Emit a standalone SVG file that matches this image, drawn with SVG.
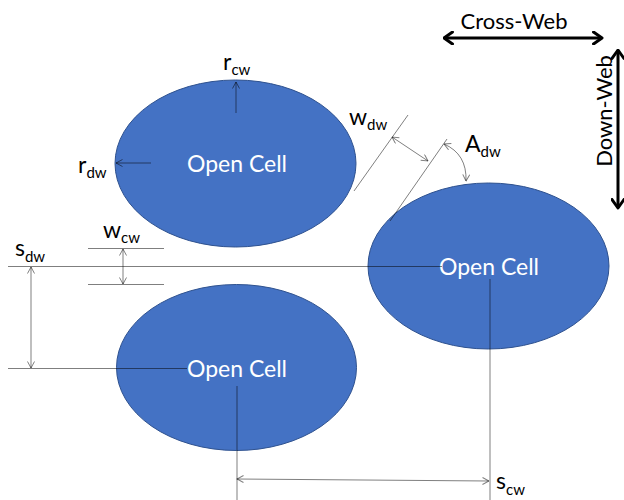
<svg xmlns="http://www.w3.org/2000/svg" width="624" height="500" viewBox="0 0 624 500">
<defs>
<style>
.cell{fill:#4472C4;stroke:#2F528F;stroke-width:1}
.ct{font-family:Lato,"Liberation Sans",sans-serif;font-size:23px;fill:#ffffff;text-anchor:middle}
.ln{fill:none;stroke:#000;stroke-opacity:0.5;stroke-width:1}
.dim{fill:none;stroke:#000;stroke-opacity:0.5;stroke-width:1;marker-start:url(#ah);marker-end:url(#ah)}
.lb{font-family:Lato,"Liberation Sans",sans-serif;font-size:23px;fill:#000}
.sb{font-size:15px}
.big{fill:none;stroke:#000;stroke-width:3;marker-start:url(#bh);marker-end:url(#bh)}
.bt{font-family:Lato,"Liberation Sans",sans-serif;font-size:22px;fill:#000}
</style>
<marker id="ah" viewBox="0 0 8 8" refX="7.5" refY="4" markerWidth="8" markerHeight="8" markerUnits="userSpaceOnUse" orient="auto-start-reverse">
<path d="M1,0.5 L7.5,4 L1,7.5" fill="none" stroke="#000" stroke-opacity="0.5" stroke-width="1"/>
</marker>
<marker id="bh" viewBox="0 0 12 14" refX="10.5" refY="7" markerWidth="12" markerHeight="14" markerUnits="userSpaceOnUse" orient="auto-start-reverse">
<path d="M2,1 L10.5,7 L2,13" fill="none" stroke="#000" stroke-width="3" stroke-linecap="round" stroke-linejoin="round"/>
</marker>
</defs>
<rect width="624" height="500" fill="#ffffff"/>

<g id="cell1">
<ellipse class="cell" cx="235.5" cy="163.5" rx="120.5" ry="83.5"/>
<text class="ct" x="237" y="172">Open Cell</text>
</g>
<g id="cell2">
<ellipse class="cell" cx="488.5" cy="266" rx="120.5" ry="83"/>
<text class="ct" x="489" y="275">Open Cell</text>
</g>
<g id="cell3">
<ellipse class="cell" cx="236.5" cy="367.5" rx="120" ry="83"/>
<text class="ct" x="237" y="377">Open Cell</text>
</g>

<g id="connectors">
<!-- reference lines -->
<line class="ln" x1="8" y1="266.5" x2="442" y2="266.5"/>
<line class="ln" x1="490" y1="279" x2="490" y2="500"/>
<line class="ln" x1="8" y1="368.5" x2="187" y2="368.5"/>
<line class="ln" x1="237" y1="386" x2="237" y2="500"/>
<line class="ln" x1="88" y1="248.5" x2="164" y2="248.5"/>
<line class="ln" x1="88" y1="284.5" x2="164" y2="284.5"/>
<line class="ln" x1="408" y1="115" x2="354" y2="191"/>
<line class="ln" x1="447" y1="139" x2="390" y2="221"/>
<!-- dimension arrows -->
<line class="dim" x1="31" y1="267" x2="31" y2="368"/>
<line class="dim" x1="123" y1="249" x2="123" y2="284"/>
<line class="dim" x1="237" y1="479" x2="489" y2="481"/>
<line class="dim" x1="392" y1="137" x2="428" y2="161"/>
<path class="dim" d="M444,144 Q467,154 466,181"/>
<!-- radius arrows -->
<line x1="236" y1="113" x2="236" y2="82" class="ln" marker-end="url(#ah)"/>
<line x1="151" y1="163" x2="116" y2="163" class="ln" marker-end="url(#ah)"/>
<!-- direction arrows -->
<line class="big" x1="444" y1="38" x2="602" y2="38"/>
<line class="big" x1="618" y1="50" x2="618" y2="208"/>
</g>

<g id="labels">
<text class="lb" x="223" y="70">r<tspan class="sb" dy="5">cw</tspan></text>
<text class="lb" x="78" y="173">r<tspan class="sb" dy="5">dw</tspan></text>
<text class="lb" x="349" y="125">w<tspan class="sb" dy="5">dw</tspan></text>
<text class="lb" x="465" y="152">A<tspan class="sb" dy="5">dw</tspan></text>
<text class="lb" x="103" y="238">w<tspan class="sb" dy="5">cw</tspan></text>
<text class="lb" x="15" y="256">s<tspan class="sb" dy="6">dw</tspan></text>
<text class="lb" x="496" y="489">s<tspan class="sb" dy="6">cw</tspan></text>
<text class="bt" x="514" y="29" text-anchor="middle">Cross-Web</text>
<text class="bt" x="0" y="0" text-anchor="middle" transform="translate(612,111) rotate(-90)">Down-Web</text>
</g>
</svg>
